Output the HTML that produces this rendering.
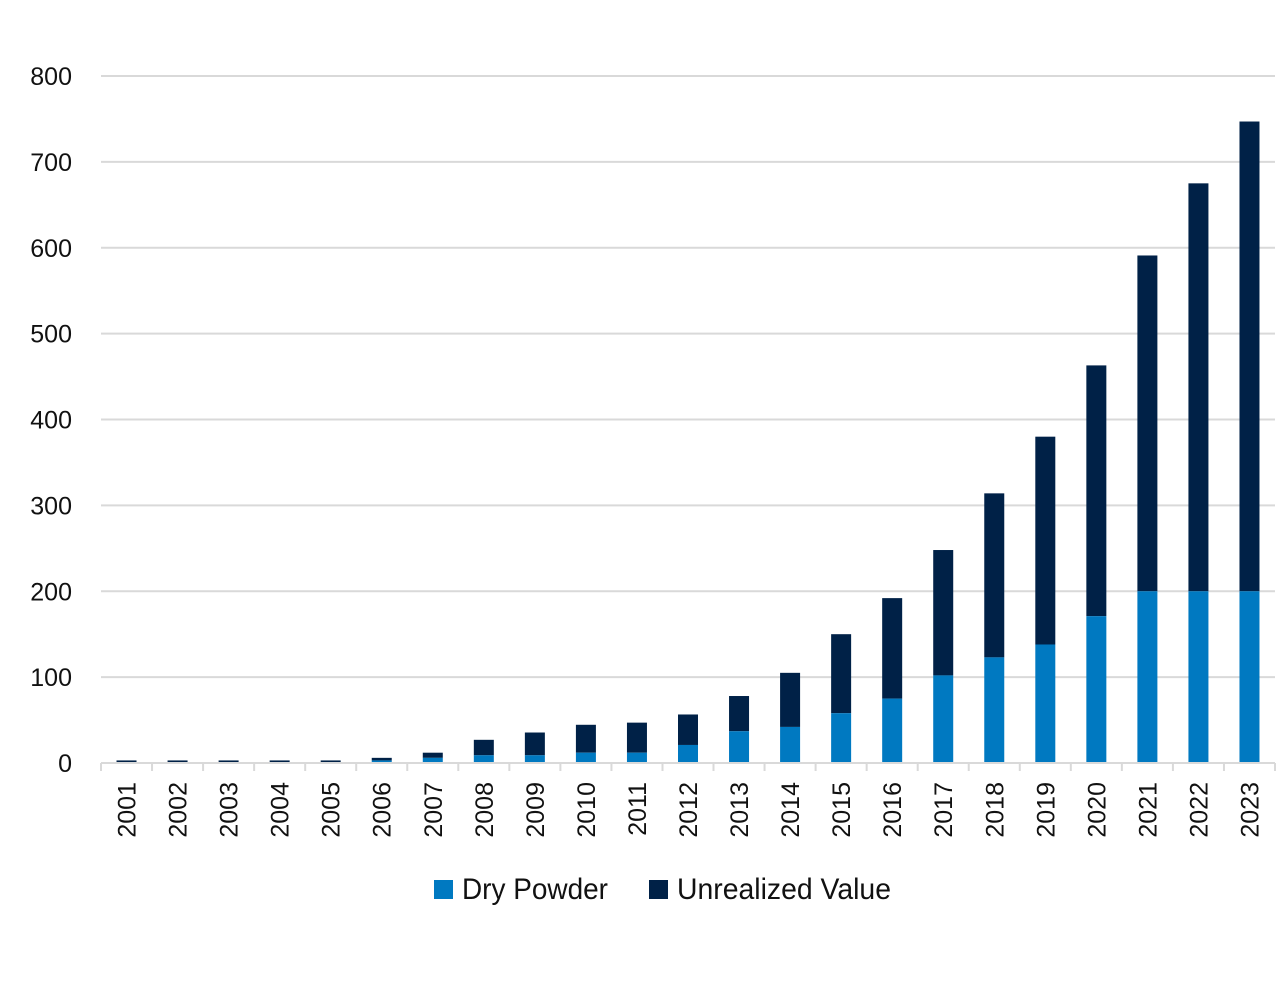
<!DOCTYPE html>
<html><head><meta charset="utf-8"><style>
html,body{margin:0;padding:0;background:#fff;}
svg{display:block;font-family:"Liberation Sans",sans-serif;}
</style></head><body>
<svg id="chart" width="1280" height="994" viewBox="0 0 1280 994" xmlns="http://www.w3.org/2000/svg">
<g id="grid"></g>
<g id="ylabels"></g>
<g id="bars"></g>
<g id="xaxis"></g>
<g>
<rect x="434" y="880" width="19" height="19" fill="#0079c1"/>
<text x="462" y="899" font-size="30" textLength="146" lengthAdjust="spacingAndGlyphs" fill="#111">Dry Powder</text>
<rect x="649" y="880" width="19" height="19" fill="#002147"/>
<text x="677" y="899" font-size="30" textLength="214" lengthAdjust="spacingAndGlyphs" fill="#111">Unrealized Value</text>
</g>
</svg>
<script>
const years = ["2001","2002","2003","2004","2005","2006","2007","2008","2009","2010","2011","2012","2013","2014","2015","2016","2017","2018","2019","2020","2021","2022","2023"];
const dryPowder = [0.5,0.5,0.5,0.5,0.5,3,6,9,9,12,12,21,37,42,58,75,102,123,138,171,200,200,200];
const totalValue = [3,3,3,3,3,6,12,27,35.5,44.5,47,56.5,78,105,150,192,248,314,380,463,591,675,747];
const yTicks = [0,100,200,300,400,500,600,700,800];

const NS="http://www.w3.org/2000/svg";
const x0=101, x1=1275, y0=763, yTop=76, yMax=800;
const bw=(x1-x0)/years.length;
const barW=20;
function yScale(v){return y0-(v/yMax)*(y0-yTop);}
function xCenter(i){return x0+bw*(i+0.5);}
function mk(tag,attrs,parent){const e=document.createElementNS(NS,tag);for(const k in attrs)e.setAttribute(k,attrs[k]);parent.appendChild(e);return e;}

const grid=document.getElementById('grid'), yl=document.getElementById('ylabels'), bars=document.getElementById('bars'), xa=document.getElementById('xaxis');
yTicks.forEach(t=>{
  const y=yScale(t);
  if(t>0){
    const l=mk('line',{x1:x0,x2:x1,y1:y,y2:y,stroke:'#d9d9d9','stroke-width':2},grid);
    
    
  }
  const tx=mk('text',{x:72,y:y+9,'font-size':25,'text-anchor':'end',fill:'#111'},yl);
  tx.textContent=t;
  
  
});
years.forEach((yr,i)=>{
  const cx=xCenter(i);
  const d=dryPowder[i], tot=totalValue[i];
  const ru=mk('rect',{x:cx-barW/2,y:yScale(tot),width:barW,height:yScale(d)-yScale(tot),fill:'#002147'},bars);
  
  
  const rd=mk('rect',{x:cx-barW/2,y:yScale(d),width:barW,height:y0-yScale(d),fill:'#0079c1'},bars);
  
  
  const tx=mk('text',{x:0,y:0,'font-size':25,'text-anchor':'end',fill:'#111',transform:'translate('+(cx+9)+',782) rotate(-90)'},xa);
  tx.textContent=yr;
  
  
});
const ax=mk('line',{x1:x0,x2:x1,y1:y0,y2:y0,stroke:'#d9d9d9','stroke-width':2},xa);


for(let i=0;i<=years.length;i++){
  const x=x0+bw*i;
  const tk=mk('line',{x1:x,x2:x,y1:y0,y2:y0+8,stroke:'#d9d9d9','stroke-width':2},xa);
  
  
}
</script>
</body></html>
